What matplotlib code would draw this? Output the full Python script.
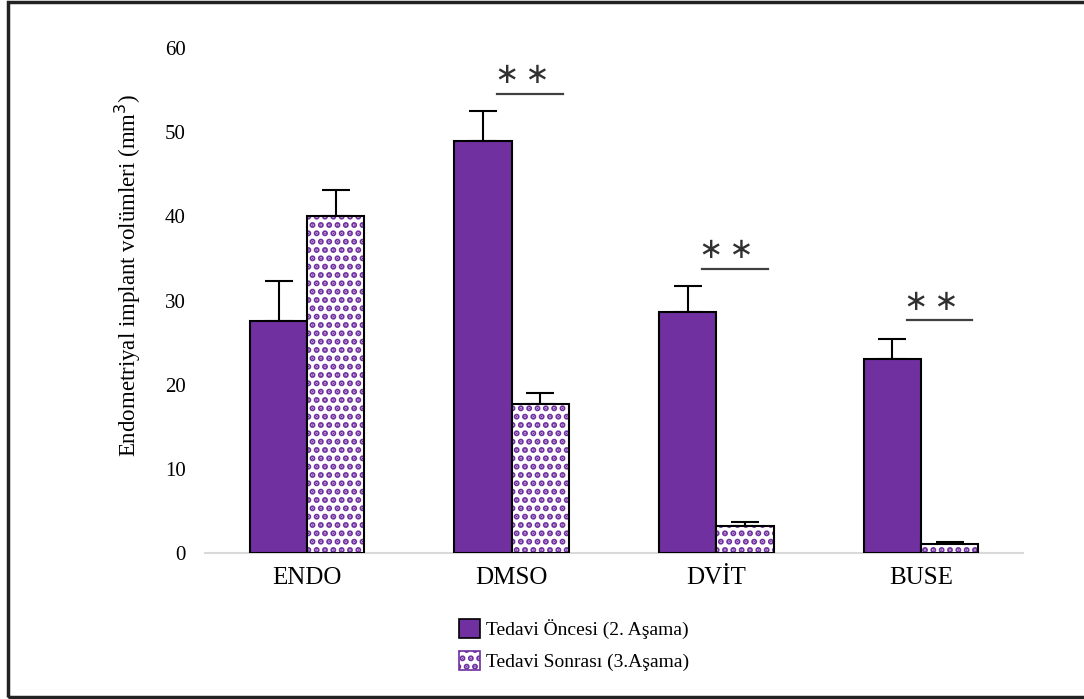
import numpy as np
import matplotlib
matplotlib.use('Agg')
import matplotlib.pyplot as plt
from matplotlib.patches import Patch, Rectangle

plt.rcParams['font.family'] = ['Liberation Serif', 'DejaVu Serif']
plt.rcParams['hatch.linewidth'] = 3.0

# Data
groups = ['ENDO', 'DMSO', 'DVİT', 'BUSE']
before_vals = [27.6, 49.0, 28.6, 23.0]
before_err = [4.7, 3.5, 3.1, 2.4]
after_vals = [40.0, 17.7, 3.2, 1.1]
after_err = [3.1, 1.3, 0.5, 0.25]
sig_heights = [None, 54.6, 33.8, 27.7]
sig_marks = ['', '\u2217\u2009\u2217', '\u2217\u2009\u2217', '\u2217\u2009\u2217']
legend_labels = ['Tedavi Öncesi (2. Aşama)', 'Tedavi Sonrası (3.Aşama)']

PURPLE = '#7030A0'
W = 0.28

fig = plt.figure(figsize=(10.84, 6.99), dpi=100)
ax = fig.add_axes([0.189, 0.209, 0.755, 0.722])

x = np.arange(len(groups))

ax.bar(x - W / 2, before_vals, W, color=PURPLE, edgecolor='black', linewidth=1.5, zorder=3)
ax.errorbar(x - W / 2, before_vals, yerr=[np.zeros(len(x)), before_err], fmt='none',
            ecolor='black', elinewidth=1.5, capsize=10, capthick=1.5, zorder=2)

# hatched bars: dotted purple pattern, then black outline on top
ax.bar(x + W / 2, after_vals, W, color='white', edgecolor=PURPLE, hatch='..',
       linewidth=0, zorder=3)
ax.bar(x + W / 2, after_vals, W, fill=False, edgecolor='black', linewidth=1.5, zorder=4)
ax.errorbar(x + W / 2, after_vals, yerr=[np.zeros(len(x)), after_err], fmt='none',
            ecolor='black', elinewidth=1.5, capsize=10, capthick=1.5, zorder=2)

# significance markers
for i, (h, m) in enumerate(zip(sig_heights, sig_marks)):
    if h is None:
        continue
    ax.plot([i - 0.07, i + 0.25], [h, h], color='#404040', lw=1.6, zorder=5)
    ax.text(i + 0.05, h + 0.5, m, ha='center', va='bottom',
            fontsize=21, color='#303030', family=['DejaVu Sans'])

ax.set_xlim(-0.5, 3.5)
ax.set_ylim(0, 60)
ax.set_yticks(np.arange(0, 61, 10))
ax.set_xticks(x)
ax.set_xticklabels(groups, fontsize=18)
ax.tick_params(axis='y', labelsize=15, length=0, pad=14)
ax.tick_params(axis='x', length=0, pad=10)
for s in ['top', 'right', 'left']:
    ax.spines[s].set_visible(False)
ax.spines['bottom'].set_color('#d9d9d9')
ax.spines['bottom'].set_linewidth(1.5)
ax.set_ylabel('Endometriyal implant volümleri (mm$^3$)', fontsize=16.5)
ax.yaxis.set_label_coords(-0.075, 0.55)

handles = [Patch(facecolor=PURPLE, edgecolor='black', linewidth=1.2),
           Patch(facecolor='white', edgecolor=PURPLE, hatch='..', linewidth=1.2)]
fig.legend(handles, legend_labels, loc='center left', bbox_to_anchor=(0.407, 0.077),
           frameon=False, fontsize=14, handlelength=1.1, handleheight=1.1,
           handletextpad=0.3, labelspacing=0.6)

# outer frame (right side runs off the image)
fig.patches.append(Rectangle((0.007, 0.003), 1.1, 0.994, transform=fig.transFigure,
                             fill=False, edgecolor='#222222', linewidth=2.5))

fig.savefig('out.png', dpi=100)
